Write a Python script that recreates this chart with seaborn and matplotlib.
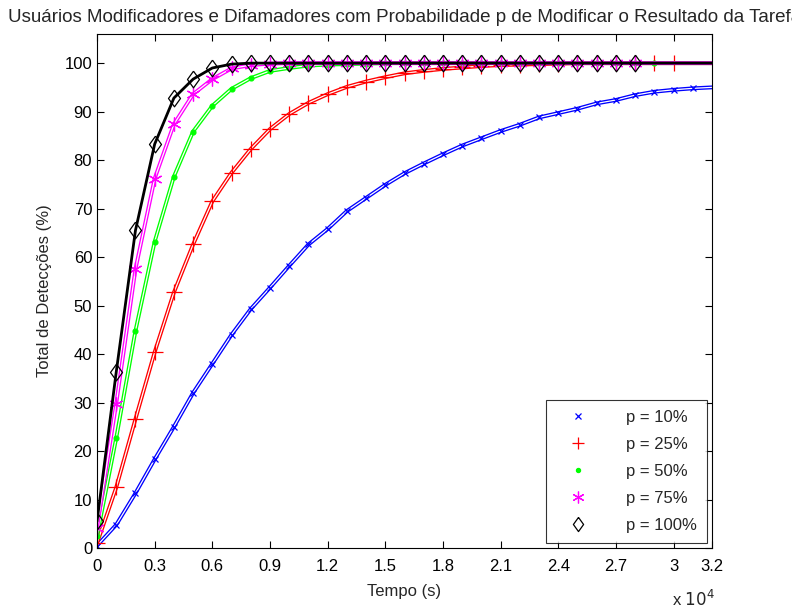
import numpy as np
import matplotlib
matplotlib.use('Agg')
import matplotlib.pyplot as plt
import matplotlib.patheffects as pe
from matplotlib.lines import Line2D
import seaborn as sns

# time axis (s), one sample every 1000 s
tempo = np.arange(0, 33000, 1000)

p10 = [0.5, 4.8, 11.3, 18.3, 25.0, 32.0, 38.0, 44.0, 49.3, 53.7, 58.2, 62.6,
       65.8, 69.5, 72.2, 74.9, 77.3, 79.3, 81.2, 83.0, 84.5, 86.0, 87.3, 88.8,
       89.7, 90.6, 91.7, 92.4, 93.4, 94.1, 94.5, 94.8, 95.0]
p25 = [1.0, 12.5, 26.6, 40.4, 52.7, 62.6, 71.5, 77.4, 82.3, 86.4, 89.5, 91.8,
       93.6, 95.1, 96.2, 97.1, 97.9, 98.4, 98.8, 99.1, 99.4, 99.6, 99.7, 99.8,
       99.9, 100, 100, 100, 100, 100, 100, 100, 100]
p50 = [2.5, 22.7, 44.8, 63.2, 76.6, 85.9, 91.2, 94.7, 96.9, 98.4, 99.0, 99.5,
       99.7, 99.8, 99.9, 100, 100, 100, 100, 100, 100, 100, 100, 100,
       100, 100, 100, 100, 100, 100, 100, 100, 100]
p75 = [4.2, 29.8, 57.5, 76.2, 87.4, 93.6, 96.7, 98.9, 99.6, 99.9, 100, 100,
       100, 100, 100, 100, 100, 100, 100, 100, 100, 100, 100, 100,
       100, 100, 100, 100, 100, 100, 100, 100, 100]
p100 = [5.5, 36.3, 65.5, 83.3, 92.8, 96.7, 99.0, 99.8, 100, 100, 100, 100,
        100, 100, 100, 100, 100, 100, 100, 100, 100, 100, 100, 100,
        100, 100, 100, 100, 100, 100, 100, 100, 100]

labels = ['p = 10%', 'p = 25%', 'p = 50%', 'p = 75%', 'p = 100%']
series = [p10, p25, p50, p75, p100]
colors = ['#0000ff', '#ff0000', '#00ff00', '#ff00ff', '#000000']
asterisk = (6, 2, 0)
diamond = [(0, 1), (0.72, 0), (0, -1), (-0.72, 0), (0, 1)]
markers = ['x', '+', '.', asterisk, diamond]
msizes = [5, 11, 7, 10, 12]
n_marks = [32, 31, 30, 29, 29]

sns.set_style('ticks')
plt.rcParams['font.family'] = ['Liberation Sans', 'DejaVu Sans']

fig = plt.figure(figsize=(7.92, 6.10), dpi=100)
ax = fig.add_axes([0.1225, 0.1016, 0.7765, 0.8426])

for vals, c, m, ms, n in zip(series, colors, markers, msizes, n_marks):
    if c == '#000000':
        fx = [pe.Stroke(linewidth=2.0, foreground=c)]
    else:
        fx = [pe.Stroke(linewidth=2.8, foreground=c),
              pe.Stroke(linewidth=0.9, foreground='white')]
    sns.lineplot(x=tempo, y=vals, color=c, lw=1, ax=ax, path_effects=fx,
                 legend=False)
    mfc = 'none' if m is diamond else c
    ax.plot(tempo[:n], vals[:n], ls='none', marker=m, ms=ms, color=c,
            mfc=mfc, mew=0.9)

ax.set_xlim(0, 32000)
ax.set_ylim(0, 106)
xt = [0, 3000, 6000, 9000, 12000, 15000, 18000, 21000, 24000, 27000, 30000, 32000]
ax.set_xticks(xt)
ax.set_xticklabels(['0', '0.3', '0.6', '0.9', '1.2', '1.5', '1.8', '2.1',
                    '2.4', '2.7', '3', '3.2'])
ax.set_yticks(range(0, 101, 10))
ax.tick_params(direction='in', top=True, right=True, length=5, width=0.8,
               labelsize=12, colors='black')
ax.tick_params(axis='x', pad=8)
for s in ax.spines.values():
    s.set_color('black')
    s.set_linewidth(0.8)

ax.set_xlabel('Tempo (s)', fontsize=12, labelpad=7)
ax.set_ylabel('Total de Detecções (%)', fontsize=12, labelpad=9)
# the reference title runs past the right edge as well
ax.set_title('Usuários Modificadores e Difamadores com Probabilidade p de '
             'Modificar o Resultado da Tarefa', fontsize=13.5, pad=9)
fig.text(0.848, 0.006, r'x $10^{4}$', fontsize=12)

handles = [Line2D([], [], ls='none', marker=m, ms=ms * 0.85, color=c,
                  mfc='none' if m is diamond else c, mew=0.9)
           for c, m, ms in zip(colors, markers, msizes)]
leg = ax.legend(handles, labels, loc='lower right', fontsize=12,
                frameon=True, fancybox=False, borderaxespad=0.3,
                handlelength=2.6, handletextpad=1.6, labelspacing=0.72,
                borderpad=0.6)
leg.get_frame().set_edgecolor('black')
leg.get_frame().set_linewidth(0.8)

fig.savefig('out.png', dpi=100)
